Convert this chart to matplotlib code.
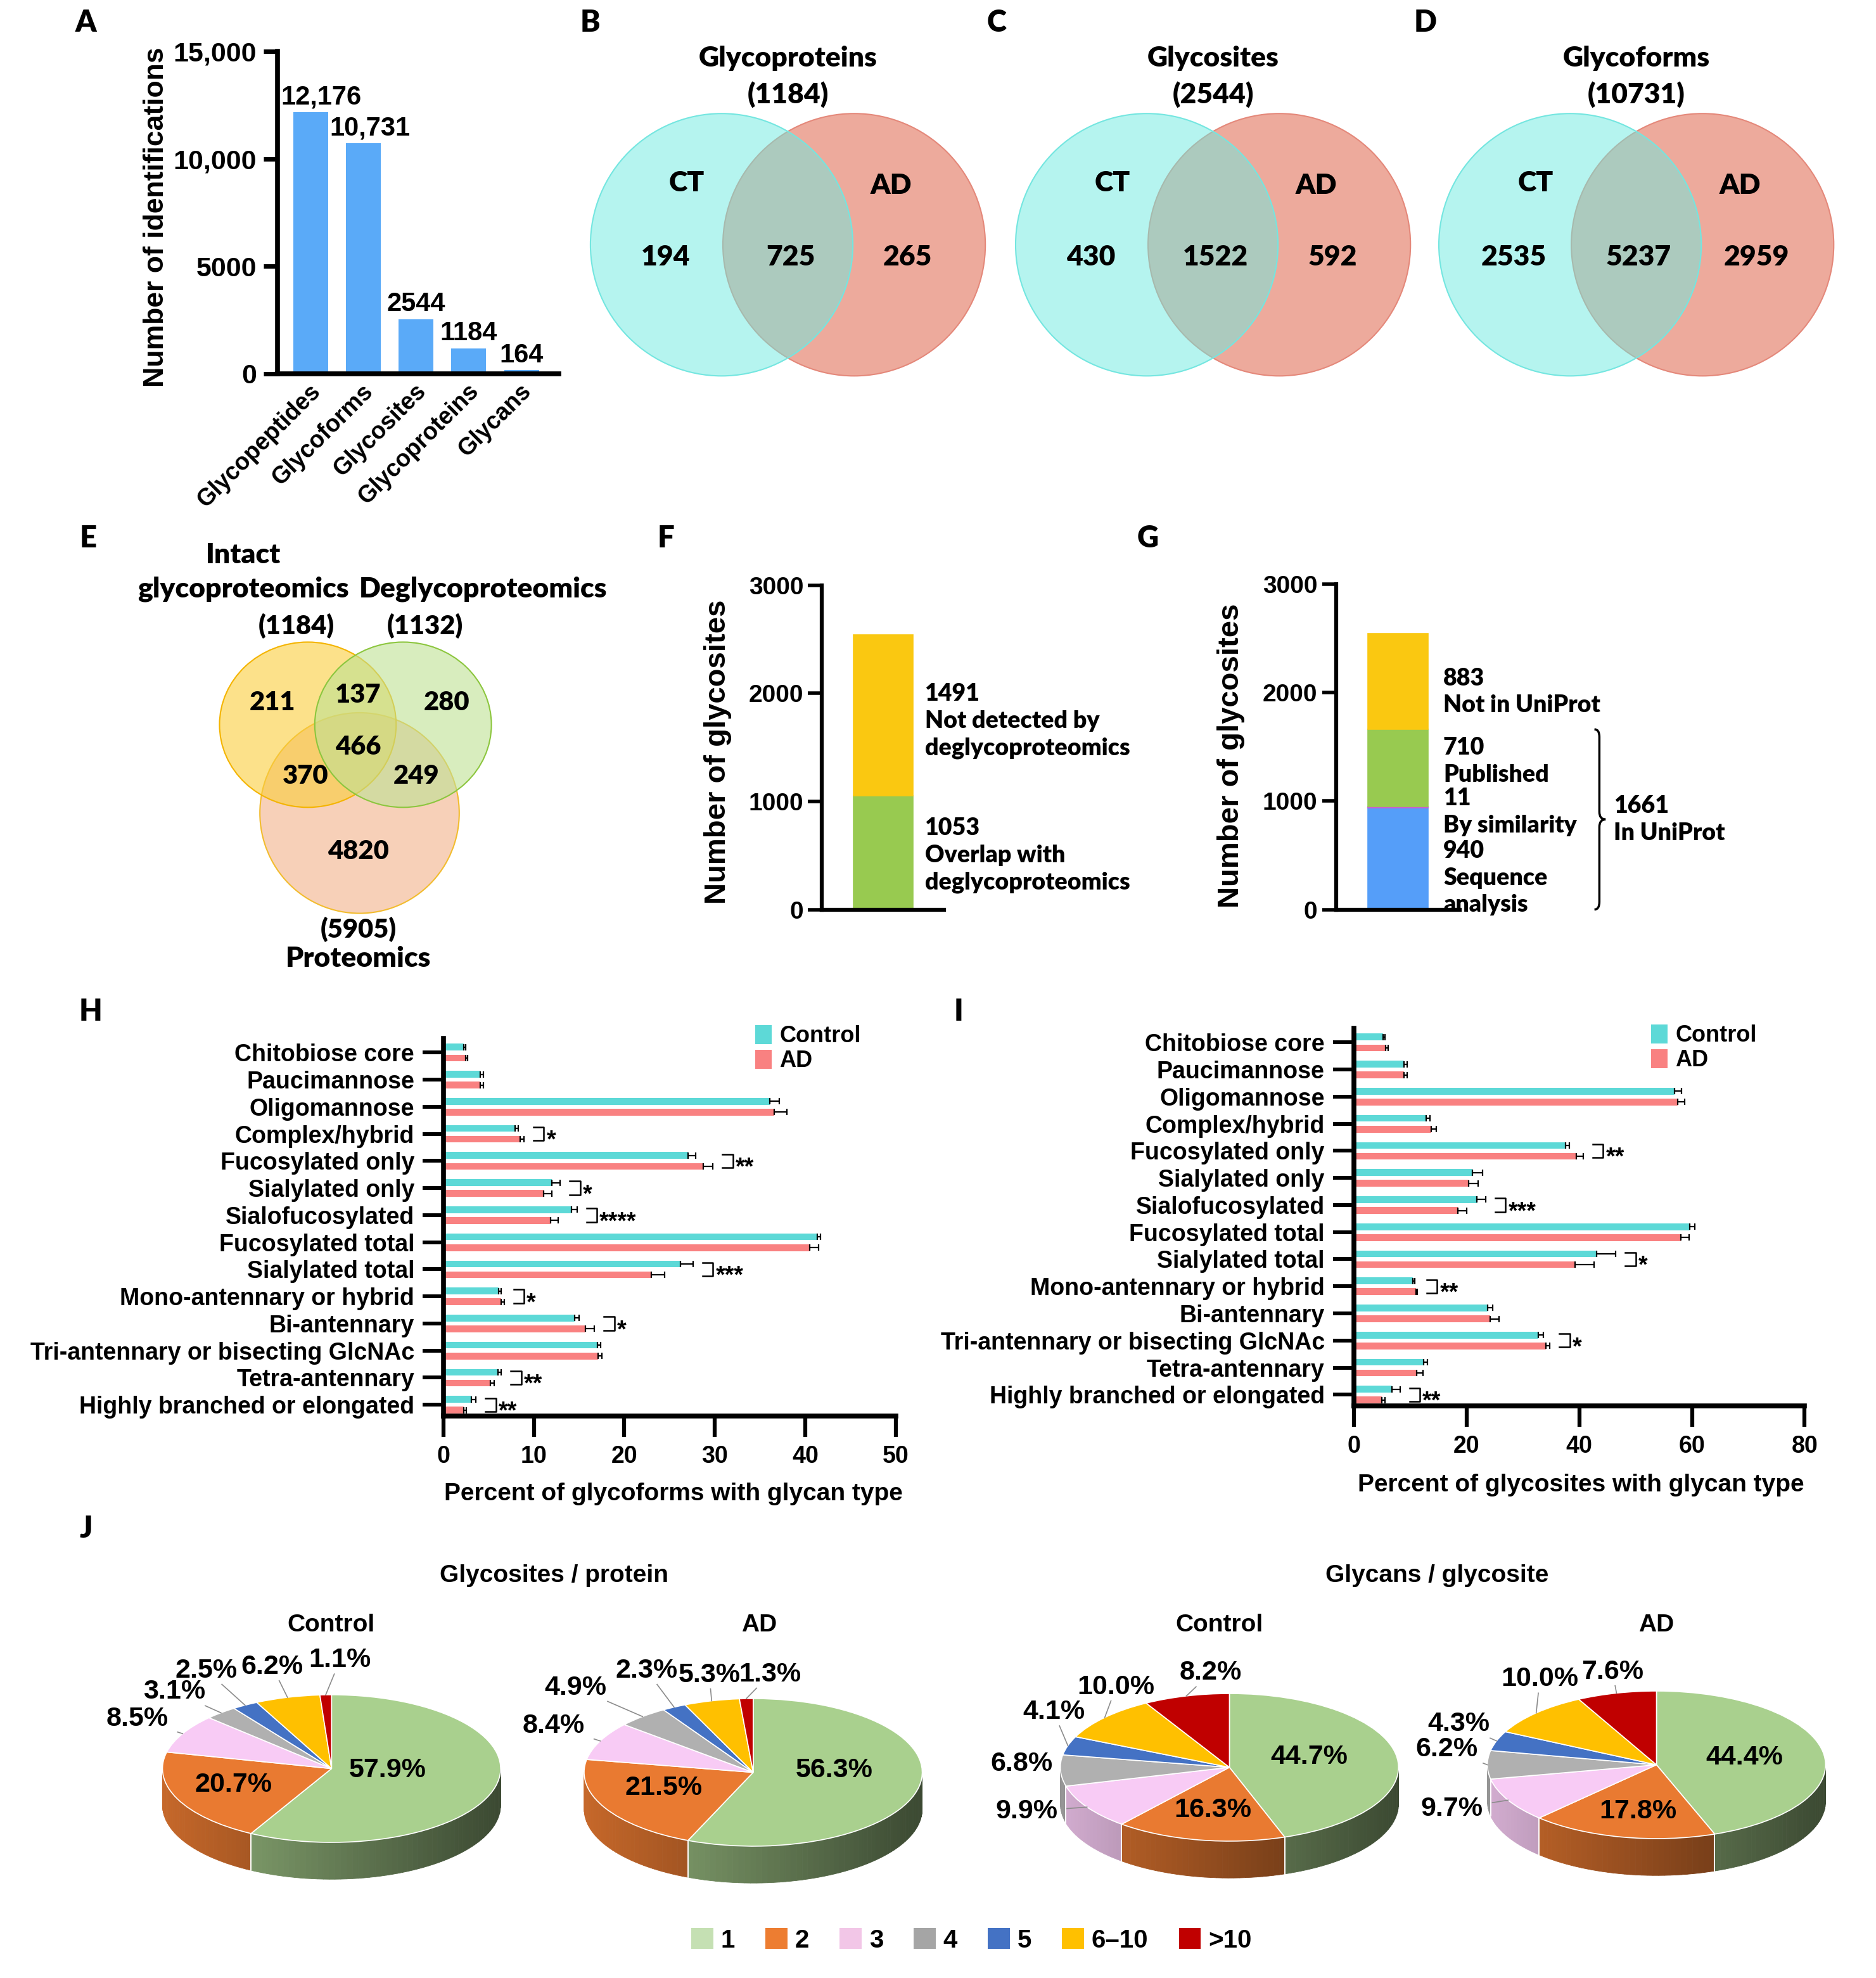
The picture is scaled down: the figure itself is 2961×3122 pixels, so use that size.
import matplotlib
matplotlib.use('Agg')

import matplotlib.pyplot as plt
import matplotlib.font_manager as fm
import matplotlib.colors as mcolors
import matplotlib.transforms as mtransforms
from matplotlib.patches import Circle, Ellipse, Polygon, Patch, PathPatch
from matplotlib.path import Path
import numpy as np

# === DATA ===
# A: identifications
ID_CATS = ['Glycopeptides', 'Glycoforms', 'Glycosites', 'Glycoproteins', 'Glycans']
ID_COUNTS = [12176, 10731, 2544, 1184, 164]

# B-D: CT vs AD venns
VENN_TITLES = ['Glycoproteins', 'Glycosites', 'Glycoforms']
VENN_TOTALS = [1184, 2544, 10731]
VENN_CT_ONLY = [194, 430, 2535]
VENN_BOTH = [725, 1522, 5237]
VENN_AD_ONLY = [265, 592, 2959]

# E: three-way venn (I = intact, D = degly, P = proteomics)
E_SETS = ['Intact\nglycoproteomics', 'Deglycoproteomics', 'Proteomics']
E_TOTALS = [1184, 1132, 5905]
E_REGION_KEYS = ['I', 'ID', 'D', 'IDP', 'IP', 'DP', 'P']
E_REGION_COUNTS = [211, 137, 280, 466, 370, 249, 4820]

# F: glycosites vs deglycoproteomics
F_VALUES = [1053, 1491]
F_LABELS = ['Overlap with\ndeglycoproteomics', 'Not detected by\ndeglycoproteomics']

# G: glycosites vs UniProt
G_VALUES = [940, 11, 710, 883]
G_LABELS = ['Sequence\nanalysis', 'By similarity', 'Published', 'Not in UniProt']
G_BRACE_LABEL = 'In UniProt'

# H / I: glycan types
GLYCAN_TYPES = ['Chitobiose core', 'Paucimannose', 'Oligomannose', 'Complex/hybrid',
                'Fucosylated only', 'Sialylated only', 'Sialofucosylated',
                'Fucosylated total', 'Sialylated total', 'Mono-antennary or hybrid',
                'Bi-antennary', 'Tri-antennary or bisecting GlcNAc', 'Tetra-antennary',
                'Highly branched or elongated']
H_CTRL = [2.25, 4.1, 36.1, 7.9, 27.05, 12.0, 14.15, 41.3, 26.2, 6.1, 14.5, 17.0, 6.0, 3.1]
H_CTRL_ERR = [0.2, 0.3, 1.0, 0.4, 0.8, 0.9, 0.6, 0.4, 1.4, 0.3, 0.5, 0.4, 0.4, 0.5]
H_AD = [2.45, 4.1, 36.6, 8.5, 28.7, 11.05, 11.85, 40.5, 22.95, 6.4, 15.7, 17.1, 5.2, 2.25]
H_AD_ERR = [0.2, 0.3, 1.4, 0.4, 1.1, 0.9, 0.8, 1.0, 1.5, 0.3, 1.0, 0.4, 0.4, 0.3]
H_SIG = ['', '', '', '*', '**', '*', '****', '', '***', '*', '*', '', '**', '**']

I_CTRL = [5.2, 8.9, 56.9, 12.9, 37.6, 21.1, 21.9, 59.6, 43.1, 10.5, 23.8, 32.7, 12.4, 6.8]
I_CTRL_ERR = [0.4, 0.6, 1.2, 0.6, 0.6, 1.7, 1.5, 0.9, 3.4, 0.3, 0.8, 1.0, 0.7, 1.4]
I_AD = [5.7, 8.9, 57.5, 13.8, 39.5, 20.4, 18.5, 58.0, 39.3, 11.0, 24.2, 34.1, 11.2, 5.0]
I_AD_ERR = [0.4, 0.6, 1.2, 0.8, 1.2, 1.7, 1.5, 1.5, 3.3, 0.3, 1.6, 0.7, 1.1, 0.5]
I_SIG = ['', '', '', '', '**', '', '***', '', '*', '**', '', '*', '', '**']

# J: pies
PIE_CATS = ['1', '2', '3', '4', '5', '6\u201310', '>10']
SITES_PER_PROTEIN_CTRL = [57.9, 20.7, 8.5, 3.1, 2.5, 6.2, 1.1]
SITES_PER_PROTEIN_AD = [56.3, 21.5, 8.4, 4.9, 2.3, 5.3, 1.3]
GLYCANS_PER_SITE_CTRL = [44.7, 16.3, 9.9, 6.8, 4.1, 10.0, 8.2]
GLYCANS_PER_SITE_AD = [44.4, 17.8, 9.7, 6.2, 4.3, 10.0, 7.6]


# === FONTS ===
def installed(name):
    try:
        fm.findfont(fm.FontProperties(family=name), fallback_to_default=False)
        return True
    except ValueError:
        return False


def first_font(*names):
    for n in names:
        if installed(n):
            return n
    return 'DejaVu Sans'


ARIAL = first_font('Liberation Sans', 'DejaVu Sans')
MYRIAD = first_font('Lato', 'Open Sans', 'DejaVu Sans')
HEAVY = 'heavy' if MYRIAD == 'Lato' else 'bold'


def fp(family, size, weight='bold'):
    return fm.FontProperties(family=family, weight=weight, size=size)


# === LAYOUT (grid in reference pixels at half size) ===
W, H = 1487, 1568
fig = plt.figure(figsize=(29.61, 31.22), dpi=100)


def rect(l, t, r, b):
    return [l / W, 1 - b / H, (r - l) / W, (b - t) / H]


ov = fig.add_axes([0, 0, 1, 1])
ov.set_xlim(0, W)
ov.set_ylim(H, 0)
ov.axis('off')


def otext(x, y, s, size, family=MYRIAD, weight='bold', **kw):
    kw.setdefault('ha', 'center')
    kw.setdefault('va', 'center')
    ov.text(x, y, s, fontsize=size, family=family, fontweight=weight, **kw)


for k, (x, y) in {'A': (68, 18), 'B': (468, 18), 'C': (790, 18), 'D': (1130, 18),
                  'E': (70, 427), 'F': (528, 427), 'G': (910, 427),
                  'H': (72, 802), 'I': (760, 802), 'J': (68, 1212)}.items():
    otext(x, y, k, 34, weight=HEAVY)


def style_axes(ax, lw=5.5):
    ax.set_facecolor('none')
    for s in ('top', 'right'):
        ax.spines[s].set_visible(False)
    for s in ('left', 'bottom'):
        ax.spines[s].set_linewidth(lw)


def style_ticklabels(labels, prop):
    for t in labels:
        t.set_fontproperties(prop)


# --- A ---
axA = fig.add_axes(rect(220, 40.7, 443, 296.3))
style_axes(axA)
xa = np.arange(len(ID_CATS))
axA.bar(xa, ID_COUNTS, width=0.66, color='#5AAAF8', zorder=2)
axA.set_xlim(-0.63, len(ID_CATS) - 0.29)
axA.set_ylim(0, 15000)
axA.set_yticks([0, 5000, 10000, 15000], ['0', '5000', '10,000', '15,000'])
axA.set_xticks(xa + 0.12, ID_CATS, rotation=45, ha='right', va='center',
               rotation_mode='anchor')
axA.tick_params(axis='x', length=0, pad=16)
axA.tick_params(axis='y', length=16, width=5, pad=8)
style_ticklabels(axA.get_yticklabels(), fp(ARIAL, 31))
style_ticklabels(axA.get_xticklabels(), fp(ARIAL, 27))
A_DX = [0.2, 0.12, 0, 0, 0]
for i, v in enumerate(ID_COUNTS):
    axA.text(i + A_DX[i], v + 100, f'{v:,}' if v >= 10000 else f'{v}', ha='center',
             va='bottom', fontproperties=fp(ARIAL, 30))
otext(124, 172, 'Number of identifications', 32, family=ARIAL, rotation=90)

# --- B-D ---
VENN_MID = [624.5, 961.5, 1297]
R, CY = 104, 194
for j, mid in enumerate(VENN_MID):
    ov.add_patch(Circle((mid + 52.5, CY), R, facecolor='#EDAA9C', edgecolor='#E4887A',
                        lw=1.5, zorder=1))
    ov.add_patch(Circle((mid - 52.5, CY), R, facecolor=(108 / 255, 235 / 255, 225 / 255, 0.5),
                        edgecolor='#74E6E0', lw=1.5, zorder=2))
    otext(mid, 46, VENN_TITLES[j], 32, weight=HEAVY)
    otext(mid, 75, f'({VENN_TOTALS[j]})', 32, weight=HEAVY)
    otext(mid - 80, 145, 'CT', 32, weight=HEAVY)
    otext(mid + 82, 147, 'AD', 32, weight=HEAVY)
    otext(mid - 97, 204, str(VENN_CT_ONLY[j]), 32, weight=HEAVY)
    otext(mid + 2, 204, str(VENN_BOTH[j]), 32, weight=HEAVY)
    otext(mid + 95, 204, str(VENN_AD_ONLY[j]), 32, weight=HEAVY)

# --- E ---
ov.add_patch(Ellipse((285, 644.5), 158, 159, facecolor=(243 / 255, 177 / 255, 137 / 255, 0.6),
                     edgecolor='#F2BC2E', lw=1.5, zorder=1))
ov.add_patch(Ellipse((244, 574.5), 140, 131, facecolor=(250 / 255, 205 / 255, 60 / 255, 0.6),
                     edgecolor='#F4B400', lw=1.5, zorder=2))
ov.add_patch(Ellipse((319.5, 574.5), 140, 131, facecolor=(190 / 255, 225 / 255, 148 / 255, 0.6),
                     edgecolor='#8CC63E', lw=1.5, zorder=3))
otext(193, 453.5, E_SETS[0], 32, weight=HEAVY, linespacing=1.4)
otext(383, 467, E_SETS[1], 32, weight=HEAVY)
otext(284, 760, E_SETS[2], 32, weight=HEAVY)
otext(235, 496, f'({E_TOTALS[0]})', 30, weight=HEAVY)
otext(337, 496, f'({E_TOTALS[1]})', 30, weight=HEAVY)
otext(284, 737, f'({E_TOTALS[2]})', 30, weight=HEAVY)
E_POS = {'I': (216, 557), 'ID': (284, 551), 'D': (354, 557), 'IDP': (284, 592),
         'IP': (242, 615), 'DP': (330, 615), 'P': (284, 675)}
for key, n in zip(E_REGION_KEYS, E_REGION_COUNTS):
    otext(*E_POS[key], str(n), 30, weight=HEAVY, zorder=5)


# --- F / G ---
def stacked(box, vals, colors, labels, label_y, label_x):
    ax = fig.add_axes(rect(*box))
    style_axes(ax, lw=4.5)
    bottom = 0
    for v, c in zip(vals, colors):
        ax.bar(0, v, bottom=bottom, width=0.98, color=c, edgecolor=c, lw=1.2, zorder=2)
        bottom += v
    ax.set_xlim(-1, 1)
    ax.set_ylim(0, 3000)
    ax.set_xticks([])
    ax.set_yticks([0, 1000, 2000, 3000])
    ax.tick_params(axis='y', length=16, width=4, pad=5)
    style_ticklabels(ax.get_yticklabels(), fp(ARIAL, 28))
    tr = mtransforms.blended_transform_factory(ax.transAxes, ax.transData)
    for v, lab, yy in zip(vals, labels, label_y):
        ax.text(label_x, yy, f'{v}\n{lab}', transform=tr, ha='left', va='center',
                family=MYRIAD, fontweight=HEAVY, fontsize=27, linespacing=1.3)
    return ax, tr


stacked((651.5, 464, 748.5, 721), F_VALUES, ['#98CA50', '#FAC811'], F_LABELS,
        [502, 1745], 0.84)
otext(569, 596, 'Number of glycosites', 34, family=ARIAL, rotation=90)

axG, trG = stacked((1059, 463, 1157, 721), G_VALUES,
                   ['#559EF9', '#CC5FCC', '#98CA50', '#FAC811'], G_LABELS,
                   [292, 899, 1366, 2008], 0.867)
otext(976, 599, 'Number of glycosites', 34, family=ARIAL, rotation=90)
in_uniprot = sum(G_VALUES[:3])
x0, rr = 2.13, 70
brace = Path([(x0 - 0.04, in_uniprot), (x0, in_uniprot), (x0, in_uniprot - rr),
              (x0, in_uniprot / 2 + rr), (x0, in_uniprot / 2), (x0 + 0.05, in_uniprot / 2),
              (x0, in_uniprot / 2), (x0, in_uniprot / 2 - rr),
              (x0, rr), (x0, 0), (x0 - 0.04, 0)],
             [Path.MOVETO, Path.CURVE3, Path.CURVE3, Path.LINETO, Path.CURVE3, Path.CURVE3,
              Path.CURVE3, Path.CURVE3, Path.LINETO, Path.CURVE3, Path.CURVE3])
axG.add_patch(PathPatch(brace, transform=trG, facecolor='none', edgecolor='black', lw=2.5,
                        clip_on=False))
axG.text(2.245, in_uniprot / 2, f'{in_uniprot}\n{G_BRACE_LABEL}', transform=trG, ha='left',
         va='center', family=MYRIAD, fontweight=HEAVY, fontsize=27, linespacing=1.3)

# --- H / I ---
CTRL_C, AD_C = '#5DD9D7', '#F98181'


def glycan_panel(box, ctrl, ctrl_err, ad, ad_err, sig, xmax, step, legend_anchor):
    ax = fig.add_axes(rect(*box))
    style_axes(ax)
    n = len(GLYCAN_TYPES)
    y = np.arange(n)
    ek = dict(ecolor='black', elinewidth=1.6, capsize=3.5, capthick=1.6)
    ax.barh(y - 0.2, ctrl, height=0.25, color=CTRL_C, xerr=[np.zeros(n), ctrl_err],
            error_kw=ek, label='Control', zorder=2)
    ax.barh(y + 0.2, ad, height=0.25, color=AD_C, xerr=[np.zeros(n), ad_err],
            error_kw=ek, label='AD', zorder=2)
    ax.set_xlim(0, xmax)
    ax.set_ylim(n - 0.58, -0.53)
    ax.set_yticks(y, GLYCAN_TYPES)
    ax.set_xticks(np.arange(0, xmax + 1, step))
    ax.tick_params(axis='y', length=24, width=4.3, pad=9)
    ax.tick_params(axis='x', length=24, width=4.5, pad=9)
    style_ticklabels(ax.get_yticklabels(), fp(ARIAL, 27))
    style_ticklabels(ax.get_xticklabels(), fp(ARIAL, 27))
    for i, s in enumerate(sig):
        if not s:
            continue
        top = max(ctrl[i] + ctrl_err[i], ad[i] + ad_err[i])
        x1, x2 = top + 0.021 * xmax, top + 0.044 * xmax
        ax.plot([x1, x2, x2, x1], [i - 0.25, i - 0.25, i + 0.25, i + 0.25], color='black',
                lw=1.8, clip_on=False, zorder=3)
        ax.text(x2 + 0.006 * xmax, i + 0.5, s, family=ARIAL, fontweight='bold', fontsize=27,
                ha='left', va='baseline')
    ax.legend(loc='upper left', bbox_to_anchor=legend_anchor, frameon=False,
              prop=fp(ARIAL, 26), handlelength=0.7, handleheight=0.9,
              handletextpad=0.35, labelspacing=0.1, borderaxespad=0, borderpad=0)
    return ax


glycan_panel((351.5, 823, 710, 1122.6), H_CTRL, H_CTRL_ERR, H_AD, H_AD_ERR, H_SIG, 50, 10,
             (0.69, 1.035))
otext(534, 1184.5, 'Percent of glycoforms with glycan type', 28, family=ARIAL)
glycan_panel((1073, 815, 1430.5, 1114.6), I_CTRL, I_CTRL_ERR, I_AD, I_AD_ERR, I_SIG, 80, 20,
             (0.66, 1.01))
otext(1253, 1177.5, 'Percent of glycosites with glycan type', 28, family=ARIAL)

# --- J ---
PIE_COLORS = ['#A9D08E', '#E97A31', '#F8CBF5', '#B0B0B0', '#4472C4', '#FFC000', '#C00000']
LEGEND_COLORS = ['#C5E0B3', '#ED7D31', '#F2C6E7', '#A5A5A5', '#4472C4', '#FFC000', '#C00000']
U, V, DEPTH = 134.0, 58.5, 0.5
XR, YT, YB = 1.75, 1.9, 1.6
PIE_CENTERS = [(262.8, 1402), (597, 1405), (974.5, 1401), (1313, 1399)]
PIE_LABEL_POS = [
    [(0.33, -0.02), (-0.58, -0.22), (-1.15, 0.67), (-0.93, 1.04), (-0.74, 1.33), (-0.35, 1.38), (0.05, 1.47)],
    [(0.48, 0.03), (-0.53, -0.21), (-1.18, 0.63), (-1.05, 1.15), (-0.63, 1.38), (-0.26, 1.32), (0.10, 1.33)],
    [(0.47, 0.14), (-0.10, -0.58), (-1.20, -0.60), (-1.23, 0.05), (-1.04, 0.75), (-0.67, 1.09), (-0.11, 1.28)],
    [(0.52, 0.10), (-0.11, -0.63), (-1.21, -0.60), (-1.24, 0.21), (-1.17, 0.55), (-0.69, 1.16), (-0.26, 1.26)],
]


def pie3d(center, vals, label_pos):
    cx, cy = center
    ax = fig.add_axes(rect(cx - XR * U, cy - YT * V, cx + XR * U, cy + YB * V))
    wedges, _ = ax.pie(vals, colors=PIE_COLORS, startangle=90, counterclock=False, radius=1,
                       frame=True, wedgeprops=dict(edgecolor='white', linewidth=1.2, zorder=3))
    ax.set_aspect('auto')
    ax.set_xlim(-XR, XR)
    ax.set_ylim(-YB, YT)
    ax.axis('off')
    # extruded side on the front half
    for w, c in zip(wedges, PIE_COLORS):
        base = np.array(mcolors.to_rgb(c))
        for k in (-720, -360, 0, 360):
            lo, hi = max(w.theta1, 180 + k), min(w.theta2, 360 + k)
            if hi <= lo:
                continue
            edges = np.linspace(lo, hi, int(np.ceil((hi - lo) / 2)) + 1)
            for a0, a1 in zip(edges[:-1], edges[1:]):
                t = np.radians([a0, a1])
                shade = 0.85 - 0.5 * (np.cos(t.mean()) + 1) / 2
                col = base * shade
                pts = [(np.cos(t[0]), np.sin(t[0])), (np.cos(t[1]), np.sin(t[1])),
                       (np.cos(t[1]), np.sin(t[1]) - DEPTH), (np.cos(t[0]), np.sin(t[0]) - DEPTH)]
                ax.add_patch(Polygon(pts, closed=True, facecolor=col, edgecolor=col, lw=0.6,
                                     zorder=1))
    for w in wedges:
        for a in (w.theta1, w.theta2):
            r = np.radians(a)
            if np.sin(r) < -1e-6:
                ax.plot([np.cos(r)] * 2, [np.sin(r), np.sin(r) - DEPTH], color='white', lw=1.2,
                        zorder=2)
    for i, (w, v, (lx, ly)) in enumerate(zip(wedges, vals, label_pos)):
        ax.text(lx, ly, f'{v:.1f}%', ha='center', va='center', zorder=5,
                fontproperties=fp(ARIAL, 31))
        if i < 2:
            continue
        m = np.radians((w.theta1 + w.theta2) / 2)
        ex, ey = np.cos(m), np.sin(m)
        dxp, dyp = (ex - lx) * U, (ey - ly) * V
        tx = 32 / abs(dxp) if abs(dxp) > 1e-6 else 1e9
        ty = 11 / abs(dyp) if abs(dyp) > 1e-6 else 1e9
        t0 = min(tx, ty)
        if t0 < 0.9:
            ax.plot([lx + (ex - lx) * t0, ex], [ly + (ey - ly) * t0, ey], color='#8C8C8C',
                    lw=1.2, zorder=4)


for center, vals, lp in zip(PIE_CENTERS,
                            [SITES_PER_PROTEIN_CTRL, SITES_PER_PROTEIN_AD,
                             GLYCANS_PER_SITE_CTRL, GLYCANS_PER_SITE_AD],
                            PIE_LABEL_POS):
    pie3d(center, vals, lp)

otext(439, 1249, 'Glycosites / protein', 28, family=ARIAL)
otext(1139, 1249, 'Glycans / glycosite', 28, family=ARIAL)
for x, s in [(262.5, 'Control'), (601.7, 'AD'), (966.5, 'Control'), (1313, 'AD')]:
    otext(x, 1288.5, s, 28, family=ARIAL)

ov.legend(handles=[Patch(facecolor=c) for c in LEGEND_COLORS], labels=PIE_CATS, ncol=7,
          loc='center', bbox_to_anchor=(770 / W, 1 - 1538 / H), frameon=False,
          prop=fp(ARIAL, 29), handlelength=0.85, handleheight=0.9, handletextpad=0.3,
          columnspacing=1.2, borderaxespad=0)

fig.savefig('out.png', dpi=100, facecolor='white')
